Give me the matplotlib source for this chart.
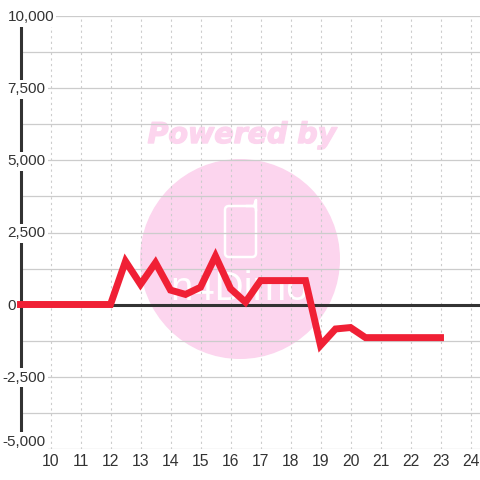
import matplotlib
matplotlib.use('Agg')
import matplotlib.pyplot as plt
import matplotlib.patheffects as pe
from matplotlib.patches import Circle, FancyBboxPatch

hours = [9, 9.5, 10, 10.5, 11, 11.5, 12, 12.5, 13, 13.5, 14, 14.5, 15, 15.5, 16, 16.5,
         17, 17.5, 18, 18.5, 19, 19.5, 20, 20.5, 21, 21.5, 22, 22.5, 23]
values = [0, 0, 0, 0, 0, 0, 0, 1500, 700, 1450, 500, 350, 600, 1680, 550, 80,
          830, 830, 830, 830, -1420, -850, -800, -1150, -1150, -1150, -1150, -1150, -1150]
x_ticks = list(range(10, 25))
y_ticks = [-5000, -2500, 0, 2500, 5000, 7500, 10000]
y_minor = [-3750, -1250, 1250, 3750, 6250, 8750]

plt.rcParams['font.family'] = ['Liberation Sans', 'DejaVu Sans']

fig = plt.figure(figsize=(4.8, 4.8), dpi=100)

# watermark sits behind everything, in figure pixels
bg = fig.add_axes([0, 0, 1, 1], zorder=0)
bg.set_xlim(0, 480)
bg.set_ylim(480, 0)
bg.axis('off')
bg.add_patch(Circle((240, 259), 100, color='#fcd5ee', lw=0))
bg.text(242, 135, 'Powered by', color='#fcd5ee', fontsize=20.5, fontweight='bold',
        fontstyle='italic', ha='center', va='center', family='DejaVu Sans',
        path_effects=[pe.withStroke(linewidth=1.0, foreground='#fcd5ee')])
# phone icon
bg.add_patch(FancyBboxPatch((225, 206), 31, 51, boxstyle='round,pad=0,rounding_size=4',
                            fc='none', ec='white', lw=1.8))
bg.plot([247, 254, 256, 256], [206, 206, 200, 210], color='white', lw=1.8)
bg.text(240, 289, 'n4Dimo', color='white', fontsize=29, ha='center', va='center')

ax = fig.add_axes([20.5 / 480, 31.5 / 480, 459.5 / 480, 432 / 480], zorder=1)
ax.patch.set_alpha(0)
ax.set_xlim(9, 9 + 459.5 / 30)
ax.set_ylim(-5000, 10000)

for s in ['top', 'right', 'bottom']:
    ax.spines[s].set_visible(False)
ax.spines['left'].set_linewidth(2.2)
ax.spines['left'].set_color('#333333')
ax.spines['left'].set_bounds(-4550, 9720)

ax.set_xticks(x_ticks)
ax.set_yticks(y_ticks)
ax.set_yticks(y_minor, minor=True)
ax.grid(axis='x', color='#cccccc', linestyle=(0, (2, 3)), linewidth=0.8)
ax.grid(axis='y', which='both', color='#cccccc', linewidth=0.9)
ax.tick_params(axis='both', which='both', length=0)
ax.tick_params(axis='x', labelsize=11.3, labelcolor='#333333', pad=4)
ax.set_yticklabels([])
ax.set_axisbelow(True)

# y labels overlap the spine, each one on a white box (not the 0 one)
for v in y_ticks:
    off_x = -18 if v < 0 else -13
    off_y = 7 if v == -5000 else -1
    box = None if v == 0 else dict(fc='white', ec='none', pad=1.5)
    ax.annotate(f'{v:,}', (0, v), xycoords=('axes fraction', 'data'), xytext=(off_x, off_y),
                textcoords='offset pixels', ha='left', va='center', fontsize=11,
                color='#333333', zorder=6, annotation_clip=False, bbox=box)

ax.axhline(0, color='#333333', linewidth=2.2, zorder=3)
ax.plot(hours, values, color='#f02035', linewidth=5, solid_joinstyle='miter',
        solid_capstyle='projecting', zorder=4, clip_on=False)

fig.savefig('out.png', dpi=100)
